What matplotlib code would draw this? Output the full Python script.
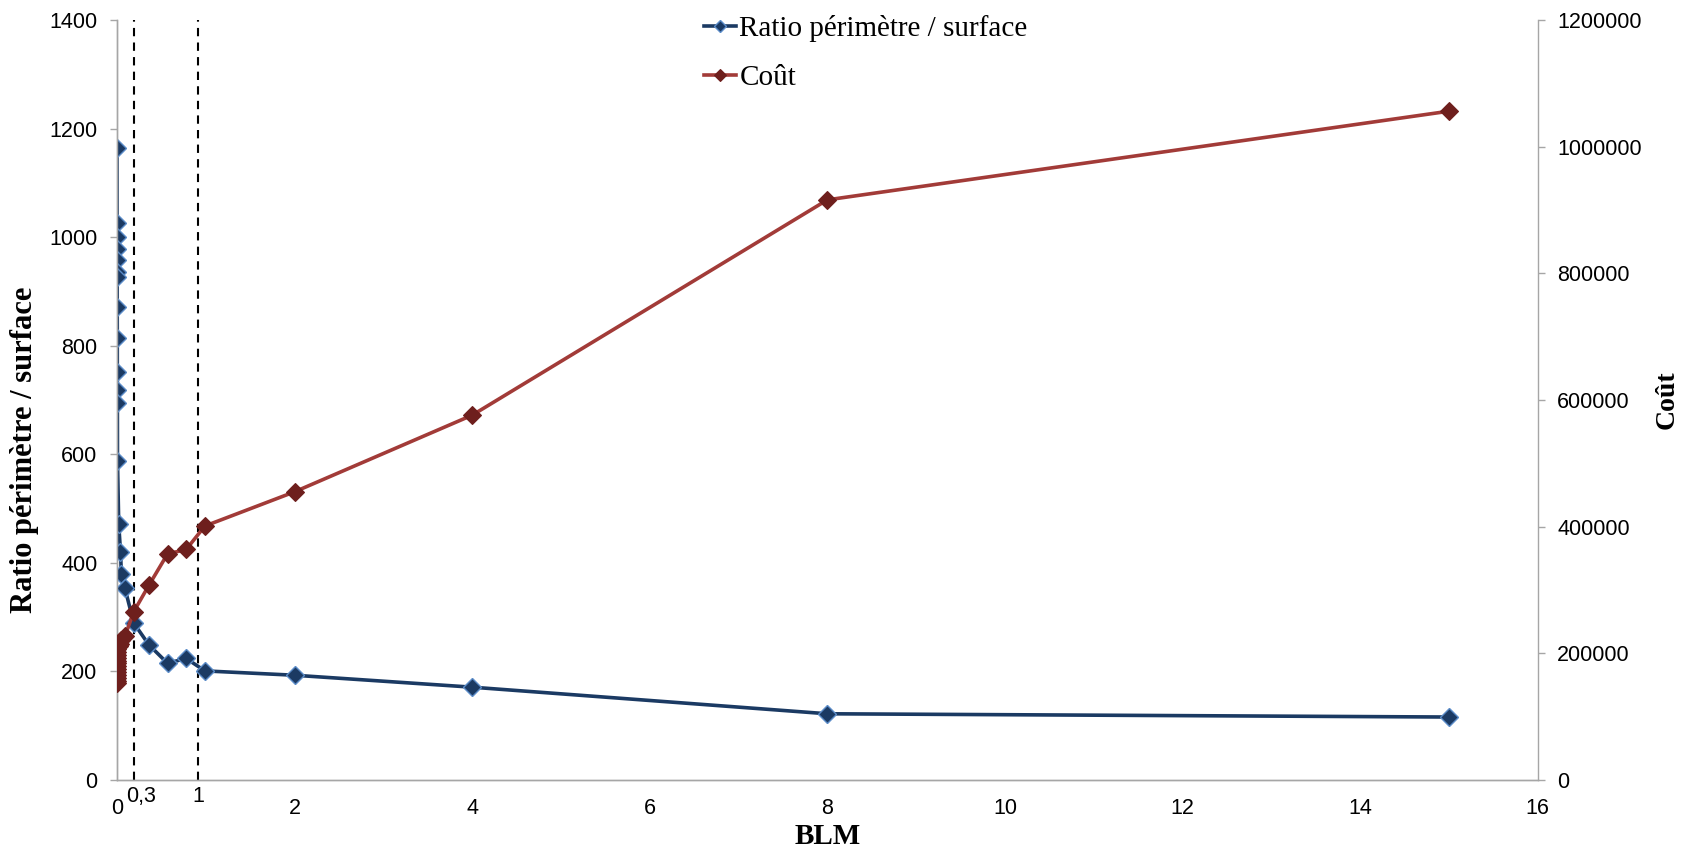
import matplotlib.pyplot as plt
from matplotlib.ticker import FuncFormatter

# BLM values (x)
blm = [0, 0.001, 0.001, 0.002, 0.002, 0.003, 0.003, 0.003, 0.004, 0.004, 0.005, 0.005,
       0.006, 0.02, 0.04, 0.05, 0.09, 0.19, 0.36, 0.57, 0.78, 0.99, 2, 4, 8, 15]

ratio = [1164, 1026, 1000, 978, 958, 935, 926, 872, 814, 751, 718, 695,
         588, 472, 420, 380, 353, 289, 249, 215, 224, 201, 193, 171, 122, 116]

cost = [152500, 157000, 161500, 166000, 170500, 175000, 179500, 184000, 188500,
        193000, 197500, 202000, 206500, 211000, 215500, 220500, 227000, 266000,
        307500, 357000, 364000, 401000, 455000, 576000, 916000, 1056000]

# dashed reference lines and their labels
ref_x = [0.19, 0.915]
ref_labels = ["0,3", "1"]

x_ticks = [0, 2, 4, 6, 8, 10, 12, 14, 16]
left_ticks = [0, 200, 400, 600, 800, 1000, 1200, 1400]
right_ticks = [0, 200000, 400000, 600000, 800000, 1000000, 1200000]

plt.rcParams['font.family'] = ['Liberation Sans', 'DejaVu Sans']
serif = ['Liberation Serif', 'DejaVu Serif']

blue = '#1B3A63'
blue_edge = '#5B8CC8'
red = '#A23B38'
red_mark = '#6E1F1D'
spine_col = '#A6A6A6'

fig = plt.figure(figsize=(16.85, 8.58), dpi=100)
ax = fig.add_axes([0.0694, 0.0909, 0.8432, 0.8858])
ax2 = ax.twinx()

l1, = ax.plot(blm, ratio, color=blue, lw=2.6, marker='D', ms=9,
              mfc=blue, mec=blue_edge, mew=1.0, label='Ratio périmètre / surface', zorder=3)
l2, = ax2.plot(blm, cost, color=red, lw=2.6, marker='D', ms=9,
               mfc=red_mark, mec=red_mark, mew=0.8, label='Coût', zorder=3)

for xv, lab in zip(ref_x, ref_labels):
    ax.axvline(xv, color='black', ls=(0, (4, 3)), lw=1.5, zorder=2)
    ax.text(xv + (0.08 if lab == "0,3" else 0.0), -0.022, lab,
            transform=ax.get_xaxis_transform(), ha='center', va='center', fontsize=15.5)

ax.set_xlim(0, 16)
ax.set_ylim(0, 1400)
ax2.set_ylim(0, 1200000)
ax.set_xticks(x_ticks)
ax.set_yticks(left_ticks)
ax2.set_yticks(right_ticks)
ax2.yaxis.set_major_formatter(FuncFormatter(lambda v, p: f"{int(v)}"))

for a in (ax, ax2):
    for s in a.spines.values():
        s.set_color(spine_col)
        s.set_linewidth(1.0)
    a.spines['top'].set_visible(False)
ax.spines['right'].set_visible(False)

ax.tick_params(axis='x', length=0, pad=13, labelsize=15.5)
ax.tick_params(axis='y', length=5, width=1, color=spine_col, pad=9, labelsize=15.5)
ax2.tick_params(axis='y', length=5, width=1, color=spine_col, pad=9, labelsize=15.5)

ax.set_xlabel('BLM', fontfamily=serif, fontweight='bold', fontsize=21, labelpad=3)
ax.set_ylabel('Ratio périmètre / surface', fontfamily=serif, fontweight='bold', fontsize=22)
ax.yaxis.set_label_coords(-0.055, 0.435)
ax2.set_ylabel('Coût', fontfamily=serif, fontweight='bold', fontsize=20, labelpad=9)

fig.legend(handles=[l1, l2], loc='upper left', bbox_to_anchor=(0.418, 0.982),
           frameon=False, prop={'family': serif, 'size': 21}, borderpad=0,
           borderaxespad=0, handlelength=1.1, handletextpad=0.1, labelspacing=0.75,
           markerscale=0.7)

fig.savefig('out.png', dpi=100)
